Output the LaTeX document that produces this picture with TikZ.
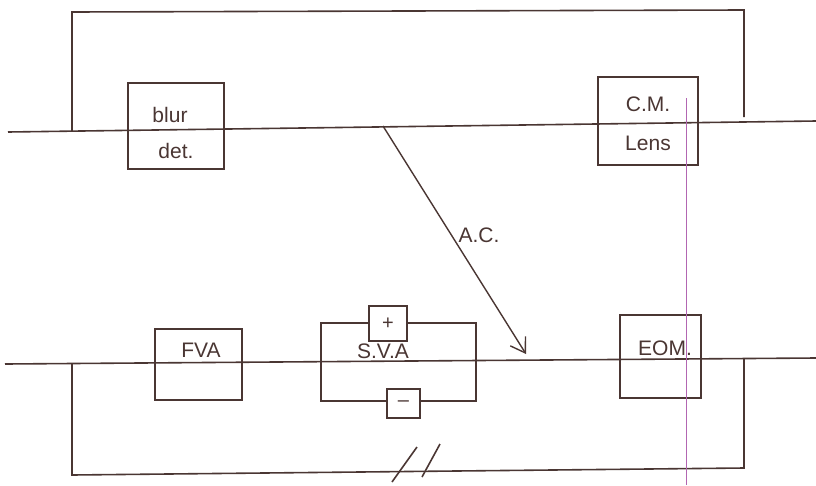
\documentclass[tikz,border=0pt]{standalone}
\usepackage{fontspec}
\setmainfont{Liberation Sans}
\usetikzlibrary{arrows.meta}
\definecolor{ink}{HTML}{4A3633}
\begin{document}
\begin{tikzpicture}[x=1pt,y=-1pt,
  wire/.style={draw=ink,line width=1.6pt},
  blk/.style={draw=ink,line width=1.4pt,fill=white,inner sep=0pt},
  lbl/.style={text=ink,font=\fontsize{21}{22}\selectfont,inner sep=1pt},
  pol/.style={blk,font=\fontsize{20}{20}\selectfont,text=ink}]
\useasboundingbox (0,0) rectangle (816,485);
% top line and loop
\coordinate (tl) at (8,132);
\coordinate (tr) at (816,121);
\draw[wire] (tl) -- (tr);
\coordinate (tlb) at (72,131);
\coordinate (tlt) at (72,12);
\coordinate (trt) at (744,10);
\coordinate (trb) at (744,117);
\draw[wire] (tlb) -- (tlt) -- (trt) -- (trb);
% bottom line and loop
\coordinate (bl) at (5,364);
\coordinate (br) at (816,358);
\draw[wire] (bl) -- (br);
\coordinate (blt) at (72,364);
\coordinate (blb) at (72,475);
\coordinate (brb) at (744,468);
\coordinate (brt) at (744,359);
\draw[wire] (blt) -- (blb) -- (brb) -- (brt);
% break marks
\coordinate (s1a) at (392,482); \coordinate (s1b) at (417,447);
\coordinate (s2a) at (422,477); \coordinate (s2b) at (440,444);
\draw[wire] (s1a) -- (s1b);
\draw[wire] (s2a) -- (s2b);
% top boxes
\node[draw=ink,line width=1.4pt,minimum width=96pt,minimum height=86pt] (blur) at (176,126) {};
\node[lbl] (blurt) at (170,115) {blur};
\node[lbl] (dett) at (176,151) {det.};
\node[draw=ink,line width=1.4pt,minimum width=100pt,minimum height=88pt] (cm) at (648,121) {};
\node[lbl] (cmt) at (648,104) {C.M.};
\node[lbl] (lenst) at (648,143) {Lens};
% arrow
\coordinate (acs) at (383,126);
\coordinate (ace) at (526,354);
\draw[draw=ink,line width=1.4pt,-{Straight Barb[length=14pt,width=18pt]}] (acs) -- (ace);
\node[lbl] (ac) at (479,235) {A.C.};
% bottom boxes
\node[draw=ink,line width=1.4pt,minimum width=87pt,minimum height=71pt] (fva) at (198.5,364.5) {};
\node[lbl] (fvat) at (201,350) {FVA};
\node[draw=ink,line width=1.4pt,minimum width=81pt,minimum height=83pt] (eom) at (660.5,356.5) {};
\node[lbl] (eomt) at (665,348) {EOM.};
% SVA
\node[draw=ink,line width=1.4pt,minimum width=155pt,minimum height=78pt] (sva) at (398.5,362) {};
\node[lbl] (svat) at (383,351) {S.V.A};
\node[pol,minimum width=38pt,minimum height=35pt] (plus) at (388,323.5) {+};
\node[pol,minimum width=33pt,minimum height=29pt] (minus) at (403.5,403.5) {--};
% stray vertical line
\coordinate (va) at (686,98);
\coordinate (vb) at (686,485);
\draw[violet!60,line width=0.6pt] (va) -- (vb);
\end{tikzpicture}
\end{document}
